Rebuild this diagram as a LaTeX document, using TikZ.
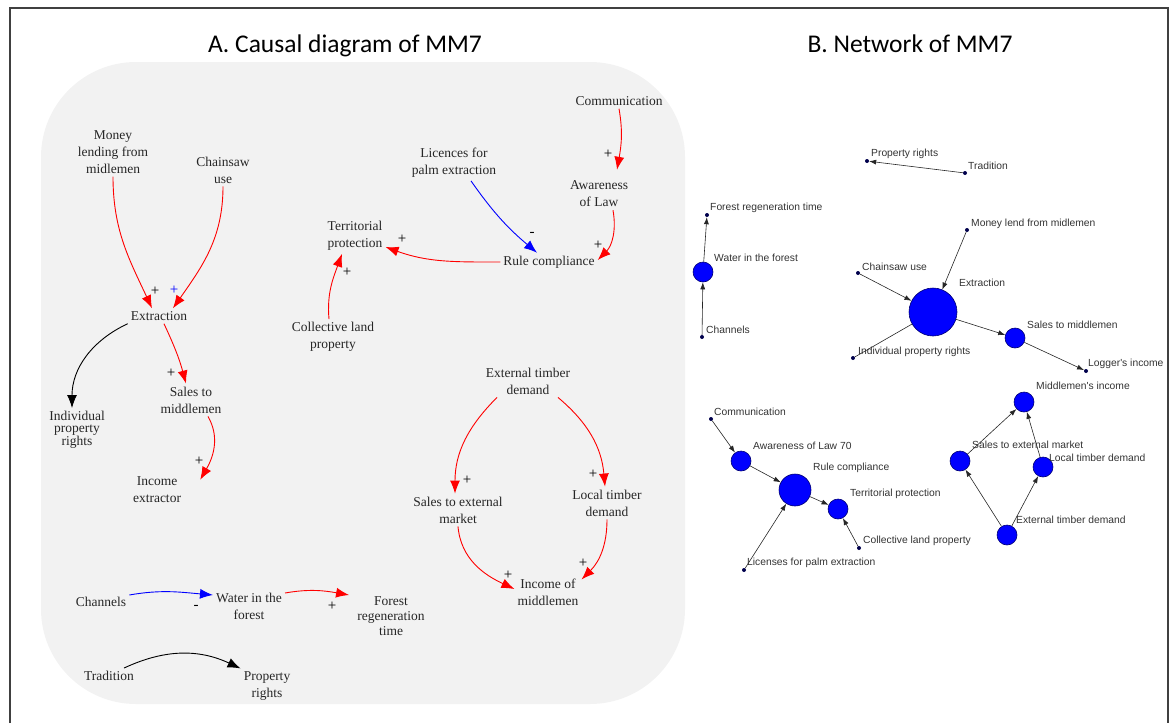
\documentclass[tikz,border=0pt]{standalone}
\usepackage{fontspec}
\setmainfont{Liberation Serif}
\newfontfamily\titlefont{Carlito}
\newfontfamily\netfont{Liberation Sans}
\usetikzlibrary{arrows.meta}

\tikzset{
  causevar/.style={font=\fontsize{13.5}{17}\selectfont, align=center, inner sep=3pt, text=black!85},
  signlbl/.style={font=\fontsize{15}{15}\selectfont, inner sep=0pt, text=black},
  posarrow/.style={-{Latex[length=13pt,width=10pt]}, red, line width=0.9pt},
  negarrow/.style={-{Latex[length=13pt,width=10pt]}, blue, line width=0.9pt},
  blackarrow/.style={-{Latex[length=13pt,width=10pt]}, black, line width=0.9pt},
  netdot/.style={circle, fill=black!70!blue, inner sep=0pt, minimum size=4pt},
  hub/.style={circle, fill=blue, draw=blue!45!black, line width=0.6pt, inner sep=0pt},
  netlbl/.style={font=\netfont\fontsize{10.3}{12}\selectfont, anchor=west, inner sep=0pt, text=black!80},
  link/.style={-{Latex[length=7pt,width=5pt]}, black!85, line width=0.6pt}
}

\begin{document}
\begin{tikzpicture}[x=1pt,y=1pt]
    \useasboundingbox (0,0) rectangle (1170,-723);

    % frame and panel
    \draw[line width=2pt, black!75] (10,-723) -- (10,-8) -- (1168,-8) -- (1168,-723);
    \fill[gray!10, rounded corners=95pt] (41,-62) rectangle (685,-704);

    \node[font=\titlefont\fontsize{25.5}{30}\selectfont, anchor=base] (titleA) at (345,-52) {A. Causal diagram of MM7};
    \node[font=\titlefont\fontsize{25.5}{30}\selectfont, anchor=base] (titleB) at (910,-52) {B. Network of MM7};

    % A: variables
    \node[causevar] (money) at (113,-152) {Money\\lending from\\midlemen};
    \node[causevar] (chain) at (223,-170) {Chainsaw\\use};
    \node[causevar] (extr) at (159,-316) {Extraction};
    \node[causevar, font=\fontsize{13.5}{12}\selectfont] (indiv) at (77,-430) {Individual\\property\\rights};
    \node[causevar] (sales) at (191,-400) {Sales to\\middlemen};
    \node[causevar] (inc) at (157,-490) {Income\\extractor};
    \node[causevar] (terr) at (355,-236) {Territorial\\protection};
    \node[causevar] (coll) at (333,-337) {Collective land\\property};
    \node[causevar] (lic) at (454,-163) {Licences for\\palm extraction};
    \node[causevar] (rule) at (549,-262) {Rule compliance};
    \node[causevar] (comm) at (619,-101) {Communication};
    \node[causevar] (aware) at (599,-194) {Awareness\\of Law};
    \node[causevar] (ext) at (528,-381) {External timber\\demand};
    \node[causevar] (salesx) at (458,-510) {Sales to external\\market};
    \node[causevar] (local) at (607,-503) {Local timber\\demand};
    \node[causevar] (incm) at (548,-592) {Income of\\middlemen};
    \node[causevar] (chan) at (101,-602) {Channels};
    \node[causevar] (water) at (249,-606) {Water in the\\forest};
    \node[causevar, font=\fontsize{13.5}{15}\selectfont] (forest) at (391,-616) {Forest\\regeneration\\time};
    \node[causevar] (trad) at (109,-676) {Tradition};
    \node[causevar] (prop) at (267,-686) {Property\\rights};

    % A: links
    \draw[posarrow] (money.south) to[out=-90,in=115] ([xshift=-7pt]extr.north);
    \draw[posarrow] (chain.south) to[out=-90,in=55] ([xshift=14pt]extr.north);
    \draw[blackarrow] (extr.south west) to[out=205,in=90] ([xshift=-5pt]indiv.north);
    \draw[posarrow] ([xshift=5pt]extr.south) to[out=-65,in=105] ([xshift=-5pt]sales.north);
    \draw[posarrow] ([xshift=17pt]sales.south) to[out=-60,in=60] ([xshift=16pt,yshift=-6pt]inc.north east);
    \draw[posarrow] (comm.south) to[out=-80,in=80] ([xshift=18pt,yshift=8pt]aware.north);
    \draw[posarrow] ([xshift=14pt]aware.south) to[out=-80,in=45] ([yshift=2pt]rule.east);
    \draw[negarrow] ([xshift=17pt]lic.south) to[out=-55,in=140] ([xshift=-12pt]rule.north);
    \draw[posarrow] (rule.west) to[out=180,in=-20] ([yshift=-11pt]terr.east);
    \draw[posarrow] ([xshift=-4pt]coll.north) to[out=95,in=-110] ([xshift=-13pt]terr.south);
    \draw[posarrow] ([xshift=-31pt]ext.south) to[out=-135,in=90] ([xshift=-3pt]salesx.north);
    \draw[posarrow] ([xshift=30pt]ext.south) to[out=-40,in=95] ([xshift=-2pt]local.north);
    \draw[posarrow] (salesx.south) to[out=-85,in=155] ([yshift=3pt]incm.west);
    \draw[posarrow] (local.south) to[out=-90,in=45] ([yshift=-4pt]incm.north east);
    \draw[negarrow] ([yshift=7pt]chan.east) to[out=10,in=175] ([yshift=11pt]water.west);
    \draw[posarrow] ([yshift=13pt]water.east) to[out=10,in=170] ([xshift=-5pt,yshift=21pt]forest.west);
    \draw[blackarrow] ([xshift=15pt]trad.north) to[out=25,in=155] (prop.north west);

    % A: polarity signs
    \foreach \x/\y/\s [count=\i] in {155/291/+, 171/373/+, 199/461/+, 608/154/+, 598/245/+,
        532/234/-, 402/239/+, 347/272/+, 467/480/+, 593/474/+, 508/575/+, 583/563/+,
        196/607/-, 332/606/+} {
        \node[signlbl] (sg-\i) at (\x,-\y) {\s};
    }
    \node[signlbl, text=blue] (sg-blue) at (174,-290) {+};

    % B: network
    \foreach \n/\x/\y in {n-prop/867/161, n-trad/965/173, n-forest/707/215, n-chan/702/337,
        n-chain/858/273, n-money/967/230, n-indiv/853/358, n-logger/1086/371,
        n-comm/711/419, n-coll/859/548, n-lic/744/570} {
        \node[netdot] (\n) at (\x,-\y) {};
    }
    \foreach \n/\x/\y/\d in {n-water/703/272/20, n-extr/933/312/48, n-sales/1015/338/20,
        n-midinc/1024/402/20, n-aware/741/461/20, n-rule/795/490/32, n-terr/838/509/20,
        n-salesx/960/461/20, n-local/1043/467/20, n-ext/1007/535/20} {
        \node[hub, minimum size=\d pt] (\n) at (\x,-\y) {};
    }

    \draw[link] (n-trad) -- (n-prop);
    \draw[link] (n-chan) -- (n-water);
    \draw[link] (n-water) -- (n-forest);
    \draw[link] (n-chain) -- (n-extr);
    \draw[link] (n-money) -- (n-extr);
    \draw[black!85, line width=0.6pt] (n-extr) -- (n-indiv);
    \draw[link] (n-extr) -- (n-sales);
    \draw[link] (n-sales) -- (n-logger);
    \draw[link] (n-comm) -- (n-aware);
    \draw[link] (n-aware) -- (n-rule);
    \draw[link] (n-lic) -- (n-rule);
    \draw[link] (n-rule) -- (n-terr);
    \draw[link] (n-coll) -- (n-terr);
    \draw[link] (n-ext) -- (n-salesx);
    \draw[link] (n-ext) -- (n-local);
    \draw[link] (n-salesx) -- (n-midinc);
    \draw[link] (n-local) -- (n-midinc);

    \foreach \x/\y/\t [count=\i] in {871/154/Property rights, 968/166/Tradition,
        710/208/Forest regeneration time, 714/258/Water in the forest, 706/330/Channels,
        862/267/Chainsaw use, 971/224/Money lend from midlemen, 959/283/Extraction,
        858/352/Individual property rights, 1027/325/Sales to middlemen,
        1088/364/Logger's income, 1036/386/Middlemen's income, 714/412/Communication,
        753/446/Awareness of Law 70, 813/468/Rule compliance, 850/494/Territorial protection,
        863/541/Collective land property, 747/563/Licenses for palm extraction,
        1049/458/Local timber demand, 972/445/Sales to external market,
        1016/520/External timber demand} {
        \node[netlbl] (nl-\i) at (\x,-\y) {\t};
    }
\end{tikzpicture}
\end{document}
